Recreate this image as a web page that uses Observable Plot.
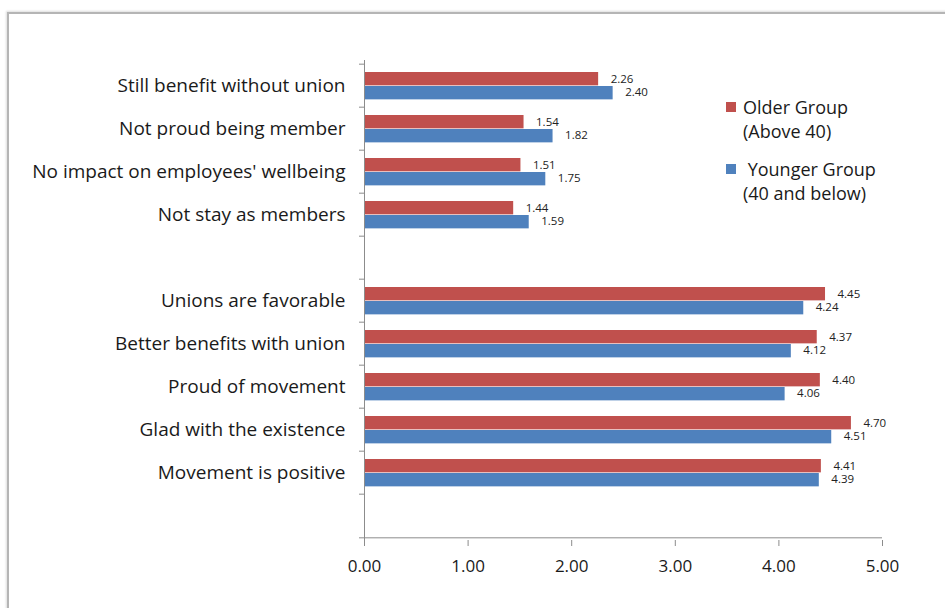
<!DOCTYPE html>
<html>
<head>
<meta charset="utf-8">
<script src="https://cdn.jsdelivr.net/npm/d3@7"></script>
<script src="https://cdn.jsdelivr.net/npm/@observablehq/plot@0.6"></script>
<style>
  html, body { margin: 0; padding: 0; background: #fff; }
  #wrap { position: relative; width: 945px; height: 608px; overflow: hidden; font-family: "Open Sans", Lato, sans-serif; }
  #frame { position: absolute; left: 7px; top: 12px; width: 1000px; height: 700px; border-left: 2px solid #b5b5b5; border-top: 2px solid #b5b5b5; box-shadow: -1px -1px 2px #ddd; }
  #chart { position: absolute; left: 0; top: 0; }
  #legend { position: absolute; left: 726px; top: 95px; font-size: 18px; color: #1a1a1a; line-height: 24px; }
  .item { display: flex; align-items: flex-start; margin-bottom: 14px; }
  .sw { width: 10px; height: 10px; margin-top: 7px; margin-right: 7px; flex: none; }
</style>
</head>
<body>
<div id="wrap">
  <div id="frame"></div>
  <div id="chart"></div>
  <div id="legend"></div>
</div>
<script>
const categories = [
  "Still benefit without union",
  "Not proud being member",
  "No impact on employees' wellbeing",
  "Not stay as members",
  " ",
  "Unions are favorable",
  "Better benefits with union",
  "Proud of movement",
  "Glad with the existence",
  "Movement is positive",
  "  "
];
const dataCategories = categories.filter(c => c.trim() !== "");
const olderValues   = [2.26, 1.54, 1.51, 1.44, 4.45, 4.37, 4.40, 4.70, 4.41];
const youngerValues = [2.40, 1.82, 1.75, 1.59, 4.24, 4.12, 4.06, 4.51, 4.39];
const xTicks = [0, 1, 2, 3, 4, 5];
const seriesNames = ["Older Group (Above 40)", "Younger Group (40 and below)"];
const legendLines = [["Older Group", "(Above 40)"], ["&nbsp;Younger Group", "(40 and below)"]];
const colors = ["#C0504D", "#4F81BD"];

const older = dataCategories.map((c, i) => ({cat: c, value: olderValues[i]}));
const younger = dataCategories.map((c, i) => ({cat: c, value: youngerValues[i]}));

const H = 608, mTop = 60, mBottom = 68;
const step = (H - mTop - mBottom) / categories.length;

const chart = Plot.plot({
  width: 945,
  height: H,
  marginLeft: 364,
  marginRight: 63,
  marginTop: mTop,
  marginBottom: mBottom,
  style: {fontFamily: "'Open Sans', Lato, sans-serif", background: "transparent"},
  x: {domain: [0, 5]},
  y: {domain: categories, type: "band", padding: 0},
  marks: [
    Plot.barX(older, {y: "cat", x: "value", fill: colors[0], insetTop: 8, insetBottom: step - 22}),
    Plot.barX(younger, {y: "cat", x: "value", fill: colors[1], insetTop: 22, insetBottom: step - 36}),
    Plot.text(older, {y: "cat", x: "value", text: d => d.value.toFixed(2), textAnchor: "start", dx: 12, dy: -7, fontSize: 11.5, fill: "#222"}),
    Plot.text(younger, {y: "cat", x: "value", text: d => d.value.toFixed(2), textAnchor: "start", dx: 12, dy: 6.5, fontSize: 11.5, fill: "#222"}),
    // y axis boundary ticks
    Plot.ruleY(categories, {y: d => d, dy: -step / 2, x1: 0, x2: 0, insetLeft: -5, stroke: "#8c8c8c"}),
    Plot.ruleX([0], {stroke: "#8c8c8c", insetBottom: -5}),
    Plot.ruleY([categories[categories.length - 1]], {y: d => d, dy: step / 2, x1: 0, x2: 5, stroke: "#8c8c8c", insetLeft: -5}),
    Plot.axisX({ticks: xTicks, tickFormat: d => d.toFixed(2), tickSize: 6, tickPadding: 13, fontSize: 17, stroke: "#8c8c8c", color: "#1a1a1a", label: null}),
    Plot.axisY({tickSize: 0, tickPadding: 19, fontSize: 19, color: "#1a1a1a", tickFormat: d => d.trim(), label: null})
  ]
});
document.getElementById("chart").appendChild(chart);

const legend = document.getElementById("legend");
legendLines.forEach((lines, i) => {
  const item = document.createElement("div");
  item.className = "item";
  item.title = seriesNames[i];
  const sw = document.createElement("div");
  sw.className = "sw";
  sw.style.background = colors[i];
  const txt = document.createElement("div");
  txt.innerHTML = lines.join("<br>");
  item.appendChild(sw);
  item.appendChild(txt);
  legend.appendChild(item);
});
</script>
</body>
</html>
